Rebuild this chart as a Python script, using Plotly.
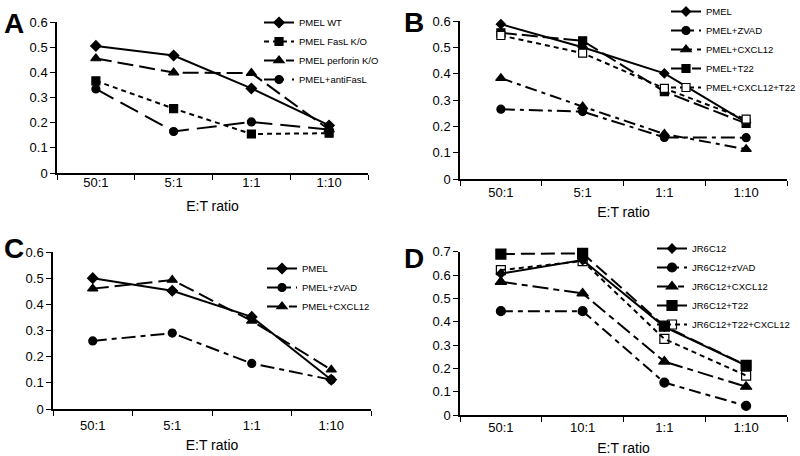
import plotly.graph_objects as go

# ---------------- data ----------------
cats_abc = ["50:1", "5:1", "1:1", "1:10"]
cats_d = ["50:1", "10:1", "1:1", "1:10"]

a_names = ["PMEL WT", "PMEL FasL K/O", "PMEL perforin K/O", "PMEL+antiFasL"]
a_pmel_wt = [0.505, 0.467, 0.336, 0.189]
a_fasl_ko = [0.366, 0.256, 0.155, 0.158]
a_perforin_ko = [0.455, 0.399, 0.397, 0.172]
a_antifasl = [0.334, 0.165, 0.203, 0.172]

b_names = ["PMEL", "PMEL+ZVAD", "PMEL+CXCL12", "PMEL+T22", "PMEL+CXCL12+T22"]
b_pmel = [0.588, 0.500, 0.401, 0.215]
b_zvad = [0.265, 0.256, 0.158, 0.157]
b_cxcl12 = [0.383, 0.275, 0.171, 0.113]
b_t22 = [0.555, 0.525, 0.332, 0.211]
b_cxcl12_t22 = [0.545, 0.478, 0.344, 0.227]

c_names = ["PMEL", "PMEL+zVAD", "PMEL+CXCL12"]
c_pmel = [0.500, 0.452, 0.352, 0.112]
c_zvad = [0.260, 0.290, 0.174, 0.112]
c_cxcl12 = [0.460, 0.493, 0.337, 0.150]

d_names = ["JR6C12", "JR6C12+zVAD", "JR6C12+CXCL12", "JR6C12+T22", "JR6C12+T22+CXCL12"]
d_jr6c12 = [0.606, 0.664, 0.378, 0.212]
d_zvad = [0.445, 0.445, 0.139, 0.039]
d_cxcl12 = [0.571, 0.521, 0.229, 0.121]
d_t22 = [0.690, 0.693, 0.381, 0.213]
d_t22_cxcl12 = [0.621, 0.660, 0.326, 0.169]

y_ticks_abc = [0, 0.1, 0.2, 0.3, 0.4, 0.5, 0.6]
y_ticks_d = [0, 0.1, 0.2, 0.3, 0.4, 0.5, 0.6, 0.7]

# ---------------- styles ----------------
FONT = "Liberation Sans, Arial, sans-serif"
BLACK = "black"

def mk(symbol, size, fill=BLACK):
    return dict(symbol=symbol, size=size, color=fill, line=dict(color=BLACK, width=1.2))

panels = [
    dict(xa="x", ya="y", legend="legend", cats=cats_abc,
         series=[a_pmel_wt, a_fasl_ko, a_perforin_ko, a_antifasl], names=a_names,
         dashes=["solid", "5px,4px", "16px,6px", "20px,8px"],
         markers=[mk("diamond", 8), mk("square", 8), mk("triangle-up", 9), mk("circle", 8)]),
    dict(xa="x2", ya="y2", legend="legend2", cats=cats_abc,
         series=[b_pmel, b_zvad, b_cxcl12, b_t22, b_cxcl12_t22], names=b_names,
         dashes=["solid", "14px,5px,4px,5px", "12px,5px,4px,5px", "16px,5px", "5px,4px"],
         markers=[mk("diamond", 7), mk("circle", 8), mk("triangle-up", 9), mk("square", 8),
                  mk("square", 8, "white")]),
    dict(xa="x3", ya="y3", legend="legend3", cats=cats_abc,
         series=[c_pmel, c_zvad, c_cxcl12], names=c_names,
         dashes=["solid", "14px,5px,5px,5px", "16px,6px"],
         markers=[mk("diamond", 8), mk("circle", 8), mk("triangle-up", 9)]),
    dict(xa="x4", ya="y4", legend="legend4", cats=cats_d,
         series=[d_jr6c12, d_zvad, d_cxcl12, d_t22, d_t22_cxcl12], names=d_names,
         dashes=["solid", "12px,5px,5px,5px", "16px,5px,6px,5px", "14px,6px", "5px,4px"],
         markers=[mk("diamond", 7), mk("circle", 9), mk("triangle-up", 10), mk("square", 10),
                  dict(symbol="square-open", size=9, color=BLACK, line=dict(color=BLACK, width=1.2))]),
]

fig = go.Figure()
for p in panels:
    for vals, name, dash, marker in zip(p["series"], p["names"], p["dashes"], p["markers"]):
        fig.add_trace(go.Scatter(
            x=p["cats"], y=vals, name=name, mode="lines+markers",
            line=dict(color=BLACK, width=2, dash=dash), marker=marker,
            xaxis=p["xa"], yaxis=p["ya"], legend=p["legend"], cliponaxis=False,
        ))

W, H = 800, 456
def px_x(v):
    return v / W
def px_y(v):
    return 1 - v / H

def xaxis(x0, x1, anchor, lab_shift, title_standoff):
    return dict(domain=[px_x(x0), px_x(x1)], anchor=anchor, type="category",
                range=[-0.5, 3.5], tickson="boundaries", ticks="outside", ticklen=5,
                tickwidth=1.2, tickcolor=BLACK, showline=True, linecolor=BLACK, linewidth=1.5,
                showgrid=False, zeroline=False, ticklabelstandoff=lab_shift,
                tickfont=dict(family=FONT, size=13, color=BLACK),
                title=dict(text="E:T ratio", font=dict(family=FONT, size=14, color=BLACK),
                           standoff=title_standoff))

def yaxis(y0, y1, anchor, top, ticks):
    return dict(domain=[px_y(y0), px_y(y1)], anchor=anchor, range=[0, top],
                tickmode="array", tickvals=ticks, ticktext=[("%g" % t) for t in ticks],
                ticks="outside", ticklen=5, tickwidth=1.2, tickcolor=BLACK,
                showline=True, linecolor=BLACK, linewidth=1.5, showgrid=False, zeroline=False,
                tickfont=dict(family=FONT, size=13, color=BLACK))

def legend(x, y):
    return dict(x=px_x(x), y=px_y(y), xanchor="left", yanchor="top", bgcolor="rgba(0,0,0,0)",
                font=dict(family=FONT, size=9.5, color=BLACK), itemwidth=30, tracegroupgap=0,
                borderwidth=0)

fig.update_layout(
    width=W, height=H, margin=dict(l=0, r=0, t=0, b=0, autoexpand=False),
    paper_bgcolor="white", plot_bgcolor="white", showlegend=True, hovermode=False,
    xaxis=xaxis(57, 368, "y", -3, 12), yaxis=yaxis(173, 22, "x", 0.6, y_ticks_abc),
    xaxis2=xaxis(460, 787, "y2", 1, 8), yaxis2=yaxis(179, 21, "x2", 0.6, y_ticks_abc),
    xaxis3=xaxis(53, 371, "y3", 4, 8), yaxis3=yaxis(409, 252, "x3", 0.6, y_ticks_abc),
    xaxis4=xaxis(460, 787, "y4", 0, 10), yaxis4=yaxis(415, 251.7, "x4", 0.7, y_ticks_d),
    legend=legend(259, 8), legend2=legend(666, -3),
    legend3=legend(262, 254), legend4=legend(652, 234),
    annotations=[
        dict(text="<b>%s</b>" % t, x=px_x(xx), y=px_y(yy), xref="paper", yref="paper",
             showarrow=False, xanchor="left", yanchor="middle",
             font=dict(family=FONT, size=28, color=BLACK))
        for t, xx, yy in [("A", 2, 24), ("B", 402, 23), ("C", 2, 248), ("D", 402, 258)]
    ],
)

fig.write_html("out.html", config={"displayModeBar": False, "staticPlot": False},
               post_script="document.body.style.margin='0px';document.body.style.overflow='hidden';")
